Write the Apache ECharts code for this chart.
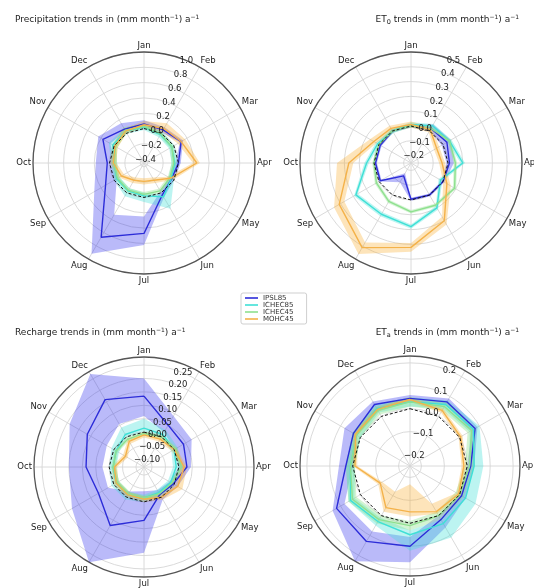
<!DOCTYPE html>
<html><head><meta charset="utf-8">
<script src="https://cdn.jsdelivr.net/npm/echarts@6/dist/echarts.min.js"></script>
<style>html,body{margin:0;padding:0;background:#fff}#c{width:534px;height:588px}</style>
</head><body><div id="c"></div>
<script>
const months = ['Jan','Feb','Mar','Apr','May','Jun','Jul','Aug','Sep','Oct','Nov','Dec'];
const models = ['IPSL85','ICHEC85','ICHEC45','MOHC45'];
const zeroLine = [0,0,0,0,0,0,0,0,0,0,0,0];

// Precipitation trends
const precipIPSL85   = [0.06, 0.05, 0.11, 0.00, -0.035, 0.03, 0.47, 0.67, 0.13, 0.03, 0.17, 0.06];
const precipIPSL85Lo = [0.03, 0.01, 0.09, -0.04, -0.07, -0.02, 0.25, 0.33, -0.04, -0.07, 0.06, 0.03];
const precipIPSL85Hi = [0.11, 0.09, 0.14, 0.03, 0.00, 0.07, 0.62, 0.92, 0.30, 0.18, 0.24, 0.15];
const precipICHEC85   = [0.02, -0.02, -0.03, -0.05, -0.04, 0.06, -0.02, -0.03, -0.04, -0.06, 0.02, 0.03];
const precipICHEC85Lo = [-0.02, -0.06, -0.07, -0.09, -0.08, 0.02, -0.06, -0.07, -0.08, -0.10, -0.02, -0.01];
const precipICHEC85Hi = [0.06, 0.02, 0.01, -0.01, 0.00, 0.24, 0.06, 0.05, 0.00, -0.02, 0.08, 0.07];
const precipICHEC45   = [0.03, -0.01, -0.03, -0.06, -0.06, -0.03, -0.04, -0.04, -0.05, -0.06, -0.02, 0.04];
const precipICHEC45Lo = [0.00, -0.04, -0.06, -0.09, -0.09, -0.06, -0.07, -0.07, -0.08, -0.09, -0.05, 0.01];
const precipICHEC45Hi = [0.07, 0.02, 0.00, -0.03, -0.03, 0.00, -0.01, -0.01, -0.02, -0.03, 0.02, 0.09];
const precipMOHC45   = [0.05, 0.07, 0.11, 0.24, -0.05, -0.19, -0.21, -0.19, -0.11, -0.05, -0.01, 0.03];
const precipMOHC45Lo = [0.02, 0.02, 0.06, 0.19, -0.09, -0.23, -0.25, -0.23, -0.15, -0.09, -0.05, 0.00];
const precipMOHC45Hi = [0.10, 0.15, 0.17, 0.28, -0.01, -0.15, -0.17, -0.15, -0.07, -0.01, 0.03, 0.07];

// ET0 trends
const et0IPSL85   = [0.00, 0.02, 0.03, 0.01, 0.00, 0.00, -0.005, -0.15, -0.01, -0.01, -0.01, 0.00];
const et0IPSL85Lo = [-0.01, 0.00, -0.01, -0.01, -0.01, -0.01, -0.015, -0.17, -0.02, -0.02, -0.02, -0.01];
const et0IPSL85Hi = [0.01, 0.05, 0.06, 0.04, 0.01, 0.01, 0.005, -0.10, 0.00, 0.00, 0.00, 0.01];
const et0ICHEC85   = [0.01, 0.04, 0.05, 0.10, -0.02, 0.10, 0.18, 0.15, 0.18, 0.05, 0.01, 0.00];
const et0ICHEC85Lo = [-0.005, 0.025, 0.035, 0.085, -0.035, 0.085, 0.165, 0.135, 0.165, 0.035, -0.005, -0.015];
const et0ICHEC85Hi = [0.025, 0.055, 0.065, 0.115, -0.005, 0.115, 0.195, 0.165, 0.195, 0.065, 0.025, 0.015];
const et0ICHEC45   = [0.00, 0.02, 0.05, 0.05, 0.09, 0.08, 0.08, 0.05, 0.02, 0.00, 0.00, 0.00];
const et0ICHEC45Lo = [-0.012, 0.008, 0.038, 0.038, 0.078, 0.068, 0.068, 0.038, 0.008, -0.012, -0.012, -0.012];
const et0ICHEC45Hi = [0.012, 0.032, 0.062, 0.062, 0.102, 0.092, 0.092, 0.062, 0.032, 0.012, 0.012, 0.012];
const et0MOHC45   = [0.01, 0.01, -0.05, -0.04, 0.03, 0.20, 0.32, 0.41, 0.31, 0.17, 0.04, 0.02];
const et0MOHC45Lo = [-0.01, -0.01, -0.07, -0.06, 0.00, 0.17, 0.29, 0.37, 0.27, 0.14, 0.02, 0.00];
const et0MOHC45Hi = [0.03, 0.03, -0.03, -0.02, 0.06, 0.23, 0.35, 0.46, 0.35, 0.25, 0.07, 0.04];

// Recharge trends
const rchIPSL85   = [0.134, 0.05, 0.04, 0.03, -0.004, -0.012, 0.069, 0.122, 0.066, 0.086, 0.114, 0.16];
const rchIPSL85Lo = [0.06, 0.02, 0.00, 0.00, -0.02, -0.03, -0.04, -0.025, 0.025, 0.025, 0.03, 0.055];
const rchIPSL85Hi = [0.20, 0.09, 0.075, 0.045, 0.015, 0.01, 0.19, 0.28, 0.18, 0.15, 0.19, 0.27];
const rchICHEC85   = [0.015, 0.01, 0.00, -0.01, -0.015, -0.02, -0.015, -0.01, -0.01, -0.015, -0.01, 0.01];
const rchICHEC85Lo = [0.003, -0.002, -0.012, -0.022, -0.027, -0.032, -0.027, -0.022, -0.022, -0.027, -0.022, -0.002];
const rchICHEC85Hi = [0.05, 0.03, 0.015, 0.005, 0.00, -0.005, 0.00, 0.01, 0.01, 0.00, 0.01, 0.04];
const rchICHEC45   = [-0.005, 0.00, 0.005, 0.01, -0.01, -0.015, -0.015, -0.015, -0.015, -0.015, -0.01, -0.01];
const rchICHEC45Lo = [-0.013, -0.008, -0.003, 0.002, -0.018, -0.023, -0.023, -0.023, -0.023, -0.023, -0.018, -0.018];
const rchICHEC45Hi = [0.003, 0.008, 0.013, 0.018, -0.002, -0.007, -0.007, -0.007, -0.007, -0.007, -0.002, -0.002];
const rchMOHC45   = [-0.01, -0.01, 0.00, 0.02, 0.015, 0.00, -0.01, -0.01, -0.01, -0.02, -0.05, -0.02];
const rchMOHC45Lo = [-0.02, -0.02, -0.01, 0.01, 0.005, -0.01, -0.02, -0.02, -0.02, -0.03, -0.06, -0.03];
const rchMOHC45Hi = [0.00, 0.00, 0.01, 0.03, 0.035, 0.01, 0.00, 0.00, 0.00, -0.01, -0.04, -0.01];

// ETa trends
const etaIPSL85   = [0.045, 0.073, 0.078, 0.015, 0.01, 0.02, 0.10, 0.13, 0.12, 0.03, 0.035, 0.06];
const etaIPSL85Lo = [0.03, 0.06, 0.06, 0.00, 0.00, 0.00, 0.06, 0.08, 0.08, 0.00, 0.02, 0.04];
const etaIPSL85Hi = [0.06, 0.09, 0.09, 0.03, 0.03, 0.06, 0.17, 0.23, 0.14, 0.06, 0.08, 0.075];
const etaICHEC85   = [0.03, 0.06, 0.07, 0.03, 0.03, 0.04, 0.05, 0.03, 0.05, 0.01, 0.02, 0.04];
const etaICHEC85Lo = [0.01, 0.04, 0.05, 0.01, 0.01, 0.02, 0.03, 0.01, 0.03, -0.01, 0.00, 0.02];
const etaICHEC85Hi = [0.05, 0.08, 0.10, 0.07, 0.08, 0.11, 0.12, 0.05, 0.06, 0.03, 0.04, 0.06];
const etaICHEC45   = [0.03, 0.05, 0.06, 0.01, 0.00, 0.00, 0.01, 0.02, 0.04, 0.01, 0.02, 0.03];
const etaICHEC45Lo = [0.01, 0.03, 0.04, -0.01, -0.02, -0.02, -0.01, 0.00, 0.02, -0.01, 0.00, 0.01];
const etaICHEC45Hi = [0.05, 0.07, 0.08, 0.03, 0.02, 0.02, 0.03, 0.04, 0.06, 0.03, 0.04, 0.05];
const etaMOHC45   = [0.04, 0.03, 0.005, -0.015, -0.005, -0.02, -0.05, -0.04, -0.10, -0.01, 0.025, 0.035];
const etaMOHC45Lo = [0.03, 0.02, -0.005, -0.025, -0.015, -0.06, -0.17, -0.12, -0.11, -0.02, 0.015, 0.025];
const etaMOHC45Hi = [0.05, 0.04, 0.015, -0.005, 0.005, -0.01, -0.03, -0.02, -0.09, 0.00, 0.035, 0.045];

const FONT = 'DejaVu Sans';
const lineColors = {IPSL85:'#2c2cd8', ICHEC85:'#3fe0d6', ICHEC45:'#8fe08f', MOHC45:'#f4b24a'};
const bandColors = {IPSL85:'rgba(40,40,235,0.32)', ICHEC85:'rgba(64,224,215,0.35)', ICHEC45:'rgba(140,225,140,0.38)', MOHC45:'rgba(250,170,40,0.32)'};

const panels = [
  {title:'Precipitation trends in (mm month{sup|−1}) a{sup|−1}', tpos:{left:15, top:14},
   center:[144,163], radius:111, min:-0.45, max:1.0, step:0.05, period:4, grayAt:1, labelStep:0.2, dec:1,
   data:{IPSL85:[precipIPSL85,precipIPSL85Lo,precipIPSL85Hi], ICHEC85:[precipICHEC85,precipICHEC85Lo,precipICHEC85Hi],
         ICHEC45:[precipICHEC45,precipICHEC45Lo,precipICHEC45Hi], MOHC45:[precipMOHC45,precipMOHC45Lo,precipMOHC45Hi]}},
  {title:'ET{sub|0} trends in (mm month{sup|−1}) a{sup|−1}', tpos:{right:15, top:14},
   center:[411,163], radius:111, min:-0.25, max:0.5, step:0.05, period:2, grayAt:1, labelStep:0.1, dec:1,
   data:{IPSL85:[et0IPSL85,et0IPSL85Lo,et0IPSL85Hi], ICHEC85:[et0ICHEC85,et0ICHEC85Lo,et0ICHEC85Hi],
         ICHEC45:[et0ICHEC45,et0ICHEC45Lo,et0ICHEC45Hi], MOHC45:[et0MOHC45,et0MOHC45Lo,et0MOHC45Hi]}},
  {title:'Recharge trends in (mm month{sup|−1}) a{sup|−1}', tpos:{left:15, top:327},
   center:[144,467], radius:110, min:-0.13, max:0.28, step:0.01, period:5, grayAt:3, labelStep:0.05, dec:2,
   data:{IPSL85:[rchIPSL85,rchIPSL85Lo,rchIPSL85Hi], ICHEC85:[rchICHEC85,rchICHEC85Lo,rchICHEC85Hi],
         ICHEC45:[rchICHEC45,rchICHEC45Lo,rchICHEC45Hi], MOHC45:[rchMOHC45,rchMOHC45Lo,rchMOHC45Hi]}},
  {title:'ET{sub|a} trends in (mm month{sup|−1}) a{sup|−1}', tpos:{right:15, top:327},
   center:[410,466], radius:110, min:-0.25, max:0.23, step:0.01, period:10, grayAt:5, labelStep:0.1, dec:1,
   data:{IPSL85:[etaIPSL85,etaIPSL85Lo,etaIPSL85Hi], ICHEC85:[etaICHEC85,etaICHEC85Lo,etaICHEC85Hi],
         ICHEC45:[etaICHEC45,etaICHEC45Lo,etaICHEC45Hi], MOHC45:[etaMOHC45,etaMOHC45Lo,etaMOHC45Hi]}}
];

function closed(vals){ return vals.map((v,i)=>[v,i]).concat([[vals[0],12]]); }
function labelFmt(p){
  return function(v){
    const k = v / p.labelStep;
    if (Math.abs(k - Math.round(k)) > 1e-6) return '';
    if (v < p.min + 1e-9) return '';
    let s = Math.abs(v).toFixed(p.dec);
    if (v < -1e-9) s = '\u2212' + s;
    return s;
  };
}
function bandRender(params, api){
  if (params.dataIndexInside !== 0) return null;
  const n = params.dataInsideLength;
  const pts = [];
  for (let i = 0; i <= n; i++) { const j = i % n; pts.push(api.coord([api.value(2, j), i])); }
  for (let i = n; i >= 0; i--) { const j = i % n; pts.push(api.coord([api.value(0, j), i])); }
  return {type:'polygon', shape:{points:pts}, style:{fill: api.visual('color'), stroke:null}, silent:true};
}

const polar = [], angleAxis = [], radiusAxis = [], series = [], title = [];
panels.forEach((p, k) => {
  polar.push({center:p.center, radius:p.radius});
  const splitColors = [];
  for (let i = 0; i < p.period; i++) splitColors.push(i === p.grayAt ? '#d6d6d6' : 'rgba(0,0,0,0)');
  angleAxis.push({polarIndex:k, type:'value', min:0, max:12, interval:1, startAngle:90, clockwise:true,
    axisLine:{show:true, lineStyle:{color:'#555', width:1.3}}, axisTick:{show:false},
    axisLabel:{show:true, margin:2, fontSize:8.5, color:'#222', fontFamily:FONT, formatter:v => months[Math.round(v)] || ''},
    splitLine:{show:true, lineStyle:{color:'#d6d6d6', width:0.9}}});
  radiusAxis.push({polarIndex:k, type:'value', min:p.min, max:p.max, interval:p.step,
    axisLine:{show:false}, axisTick:{show:false}, axisLabel:{show:false},
    splitLine:{show:true, lineStyle:{color:splitColors, width:0.9}}});
  title.push(Object.assign({text:p.title, padding:0,
    textStyle:{fontSize:9, fontWeight:'normal', color:'#222', fontFamily:FONT, lineHeight:12,
      rich:{sup:{fontSize:6, verticalAlign:'top', fontFamily:FONT, color:'#222'},
            sub:{fontSize:6.5, verticalAlign:'bottom', fontFamily:FONT, color:'#222'}}}}, p.tpos));
  models.forEach(m => {
    const d = p.data[m];
    series.push({type:'custom', name:m + ' band', coordinateSystem:'polar', polarIndex:k, z:1, silent:true,
      itemStyle:{color:bandColors[m]}, data:d[1].map((v,i)=>[v, i, d[2][i]]),
      encode:{radius:0, angle:1}, renderItem:bandRender});
  });
  models.forEach(m => {
    series.push({type:'line', name:m, coordinateSystem:'polar', polarIndex:k, z:3, silent:true,
      symbol:'none', data:closed(p.data[m][0]),
      lineStyle:{color:lineColors[m], width:1.4}, itemStyle:{color:lineColors[m]}});
  });
  series.push({type:'line', name:'zero', coordinateSystem:'polar', polarIndex:k, z:4, silent:true,
    symbol:'none', data:closed(zeroLine), lineStyle:{color:'#111', width:1, type:[3,2]}, itemStyle:{color:'#111'}});
});
// label-only polars (radial tick labels along 22.5 deg)
panels.forEach((p, k) => {
  const idx = panels.length + k;
  polar.push({center:p.center, radius:p.radius});
  angleAxis.push({polarIndex:idx, type:'value', min:0, max:12, startAngle:67.5, clockwise:true,
    axisLine:{show:false}, axisTick:{show:false}, axisLabel:{show:false}, splitLine:{show:false}});
  radiusAxis.push({polarIndex:idx, type:'value', min:p.min, max:p.max, interval:p.step, z:10,
    axisLine:{show:false}, axisTick:{show:false}, splitLine:{show:false},
    axisLabel:{show:true, margin:0, align:'center', verticalAlign:'middle', fontSize:8.5, color:'#222',
      fontFamily:FONT, formatter:labelFmt(p), hideOverlap:false}});
});

const chart = echarts.init(document.getElementById('c'), null, {renderer:'canvas'});
chart.setOption({
  animation:false, backgroundColor:'#fff', title:title,
  legend:{data:models, orient:'vertical', left:241, top:293, icon:'rect', itemWidth:13, itemHeight:1.6, itemGap:0,
    padding:[1.5,13,1.5,4], borderColor:'#cfcfcf', borderWidth:1, borderRadius:2, backgroundColor:'#fff',
    selectedMode:false, textStyle:{fontSize:7, lineHeight:7, fontFamily:FONT, color:'#333'}},
  polar:polar, angleAxis:angleAxis, radiusAxis:radiusAxis, series:series
});
</script></body></html>
